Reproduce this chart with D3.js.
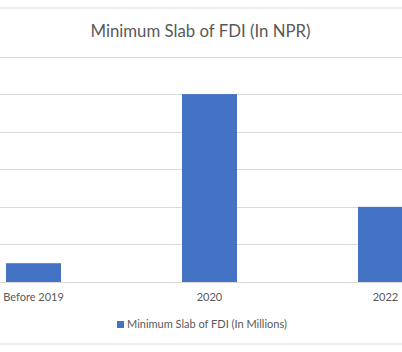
<!DOCTYPE html>
<html>
<head>
<meta charset="utf-8">
<script src="https://cdn.jsdelivr.net/npm/d3@7"></script>
<style>
  html, body { margin: 0; padding: 0; background: #fff; }
  svg { display: block; }
</style>
</head>
<body>
<div id="chart"></div>
<script>
// chart data
const categories = ["Before 2019", "2020", "2022"];
const values = [50, 500, 200];
const yTicks = [0, 100, 200, 300, 400, 500, 600];
const title = "Minimum Slab of FDI (In NPR)";
const seriesName = "Minimum Slab of FDI (In Millions)";

const width = 402, height = 352;
const font = "Lato, 'Open Sans', sans-serif";
const textColor = "#595959";
const barColor = "#4472C4";

const svg = d3.select("#chart")
  .append("svg")
  .attr("width", width)
  .attr("height", height);

svg.append("rect")
  .attr("width", width)
  .attr("height", height)
  .attr("fill", "#fff");

// chart border (left / right edges fall outside the crop)
svg.append("rect")
  .attr("x", -2)
  .attr("y", 8)
  .attr("width", width + 4)
  .attr("height", 336)
  .attr("fill", "none")
  .attr("stroke", "#d9d9d9")
  .attr("stroke-width", 1);

// plot area is wider than the visible crop
const x = d3.scaleBand()
  .domain(categories)
  .range([-54.5, 473.5])
  .paddingInner(0.6875)
  .paddingOuter(0.34375);

const y = d3.scaleLinear()
  .domain([0, 600])
  .range([282, 56.5]);

//grid lines
svg.selectAll(".grid")
  .data(yTicks)
  .join("line")
  .attr("class", "grid")
  .attr("x1", 0)
  .attr("x2", width)
  .attr("y1", d => Math.round(y(d)) + 0.5)
  .attr("y2", d => Math.round(y(d)) + 0.5)
  .attr("stroke", "#d9d9d9")
  .attr("stroke-width", 1);

// bars
svg.selectAll(".bar")
  .data(values)
  .join("rect")
  .attr("class", "bar")
  .attr("x", (d, i) => x(categories[i]))
  .attr("y", d => y(d))
  .attr("width", x.bandwidth())
  .attr("height", d => y(0) - y(d))
  .attr("fill", barColor);

// x axis labels
const xAxis = svg.append("g")
  .attr("transform", `translate(0,${y(0)})`)
  .call(d3.axisBottom(x).tickSize(0).tickPadding(0));
xAxis.select(".domain").remove();
xAxis.selectAll("text")
  .attr("y", 19)
  .attr("dy", null)
  .style("font-family", font)
  .style("font-size", "11px")
  .style("fill", textColor);

// title
svg.append("text")
  .attr("x", 200.5)
  .attr("y", 37)
  .style("text-anchor", "middle")
  .style("font-family", font)
  .style("font-size", "16.8px")
  .style("fill", textColor)
  .text(title);

// legend
const legend = svg.append("g");
legend.append("rect")
  .attr("x", 117)
  .attr("y", 321)
  .attr("width", 7)
  .attr("height", 7)
  .attr("fill", barColor);
legend.append("text")
  .attr("x", 127)
  .attr("y", 327.5)
  .style("font-family", font)
  .style("font-size", "11px")
  .style("fill", textColor)
  .text(seriesName);
</script>
</body>
</html>
